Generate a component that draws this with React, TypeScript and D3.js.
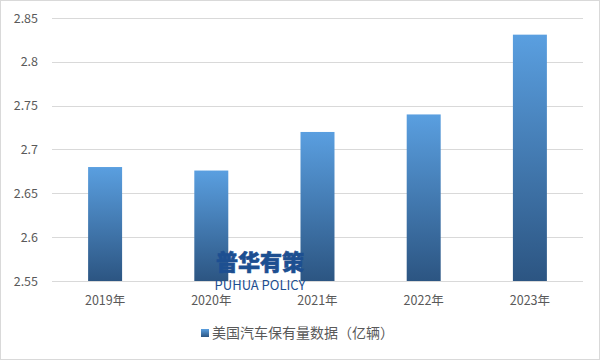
import React from "react";
import * as d3 from "d3";

const categories = ["2019年", "2020年", "2021年", "2022年", "2023年"];
const values = [2.68, 2.676, 2.72, 2.74, 2.831];
const yTicks = [2.55, 2.6, 2.65, 2.7, 2.75, 2.8, 2.85];
const seriesName = "美国汽车保有量数据（亿辆）";

export default function App() {
  const W = 601, H = 361;
  const left = 52, right = 583, top = 18, bottom = 281;
  const x = d3.scaleBand<string>().domain(categories).range([left, right]).paddingInner(0.68).paddingOuter(0.34);
  const y = d3.scaleLinear().domain([2.55, 2.85]).range([bottom, top]);
  const font = "'Microsoft YaHei', 'Noto Sans CJK SC', 'DejaVu Sans', sans-serif";
  return (
    <svg width={W} height={H} style={{ position: "fixed", left: 0, top: 0 }} fontFamily={font}>
      <defs>
        <linearGradient id="barGrad" x1="0" y1="0" x2="0" y2="1">
          <stop offset="0%" stopColor="#5a9fe0" />
          <stop offset="100%" stopColor="#2c5582" />
        </linearGradient>
        <linearGradient id="legGrad" x1="0" y1="0" x2="0" y2="1">
          <stop offset="0%" stopColor="#5a9fe0" />
          <stop offset="100%" stopColor="#2c5582" />
        </linearGradient>
      </defs>
      <rect x={0.5} y={0.5} width={W - 2} height={H - 2} fill="#fff" stroke="#d9d9d9" />
      {yTicks.map((t) => (
        <g key={t}>
          <line x1={left} x2={right} y1={Math.round(y(t)) + 0.5} y2={Math.round(y(t)) + 0.5} stroke="#d9d9d9" />
          <text x={38} y={y(t) + 4.5} textAnchor="end" fontSize={12.5} fill="#595959">{t}</text>
        </g>
      ))}
      {categories.map((c, i) => (
        <g key={c}>
          <rect x={x(c)!} y={y(values[i])} width={x.bandwidth()} height={bottom - y(values[i])} fill="url(#barGrad)" />
          <text x={x(c)! + x.bandwidth() / 2} y={bottom + 24} textAnchor="middle" fontSize={12.5} fill="#595959">{c}</text>
        </g>
      ))}
      <g>
        <text x={260} y={270} textAnchor="middle" fontSize={22} fontWeight={900} fill="#1d4f91" stroke="#1d4f91" strokeWidth={0.6}>普华有策</text>
        <text x={260} y={290} textAnchor="middle" fontSize={13} fill="#1d4f91">PUHUA POLICY</text>
      </g>
      <rect x={201} y={329} width={8} height={8} fill="url(#legGrad)" />
      <text x={212} y={338} fontSize={14} fill="#595959">{seriesName}</text>
    </svg>
  );
}
